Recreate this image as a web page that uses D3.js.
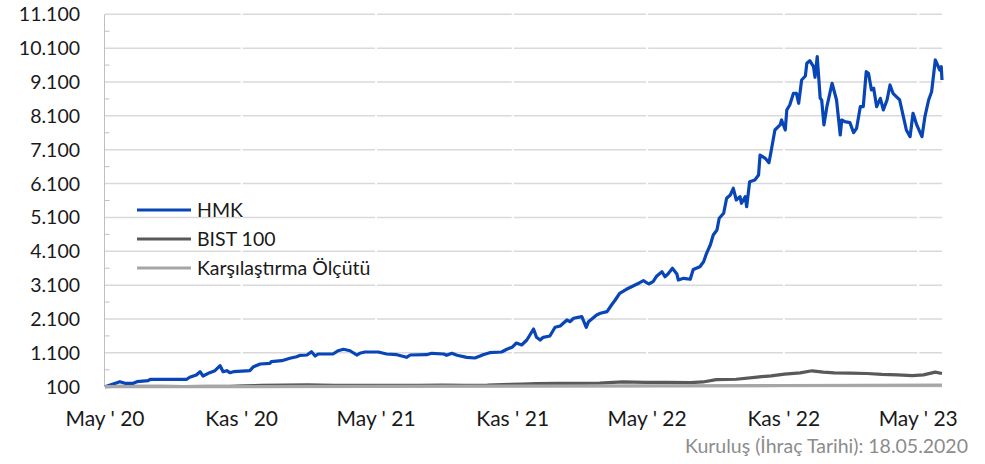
<!DOCTYPE html>
<html>
<head>
<meta charset="utf-8">
<script src="https://cdn.jsdelivr.net/npm/d3@7"></script>
<style>
  html, body { margin: 0; padding: 0; background: #fff; }
  svg { display: block; font-family: Lato, "Open Sans", sans-serif; }
</style>
</head>
<body>
<svg id="chart" width="985" height="464"></svg>
<script>
// HMK fund, normalised to 100 at launch (18.05.2020)
const hmk = [
  ["2020-05-18", 100], ["2020-06-07", 248], ["2020-06-14", 200], ["2020-06-25", 200],
  ["2020-06-30", 248], ["2020-07-15", 277], ["2020-07-18", 319], ["2020-09-05", 319],
  ["2020-09-09", 378], ["2020-09-18", 446], ["2020-09-23", 543], ["2020-09-27", 416],
  ["2020-10-06", 514], ["2020-10-13", 573], ["2020-10-20", 720], ["2020-10-24", 543],
  ["2020-10-29", 573], ["2020-11-02", 514], ["2020-11-07", 543], ["2020-11-29", 573],
  ["2020-12-04", 691], ["2020-12-13", 771], ["2020-12-26", 791], ["2020-12-28", 839],
  ["2021-01-11", 868], ["2021-01-22", 939], ["2021-01-31", 986], ["2021-02-05", 1028],
  ["2021-02-14", 1036], ["2021-02-20", 1134], ["2021-02-25", 1007], ["2021-03-01", 1066],
  ["2021-03-21", 1066], ["2021-03-28", 1163], ["2021-04-04", 1205], ["2021-04-13", 1163],
  ["2021-04-17", 1104], ["2021-04-22", 1036], ["2021-04-26", 1087], ["2021-05-03", 1125],
  ["2021-05-21", 1125], ["2021-05-28", 1087], ["2021-06-01", 1066], ["2021-06-15", 1045],
  ["2021-06-28", 968], ["2021-07-03", 1036], ["2021-07-25", 1045], ["2021-08-01", 1087],
  ["2021-08-17", 1066], ["2021-08-21", 1028], ["2021-08-28", 1087], ["2021-09-04", 1028],
  ["2021-09-17", 968], ["2021-09-28", 948], ["2021-10-05", 1007], ["2021-10-09", 1045],
  ["2021-10-18", 1104], ["2021-11-03", 1125], ["2021-11-10", 1205], ["2021-11-17", 1264],
  ["2021-11-23", 1391], ["2021-11-30", 1332], ["2021-12-07", 1480], ["2021-12-16", 1804],
  ["2021-12-20", 1559], ["2021-12-25", 1480], ["2021-12-29", 1559], ["2022-01-07", 1598],
  ["2022-01-14", 1855], ["2022-01-21", 1893], ["2022-01-25", 1973], ["2022-01-30", 2070],
  ["2022-02-03", 2020], ["2022-02-08", 2121], ["2022-02-19", 2168], ["2022-02-25", 1855],
  ["2022-02-28", 2020], ["2022-03-11", 2218], ["2022-03-16", 2268], ["2022-03-25", 2316],
  ["2022-03-31", 2513], ["2022-04-05", 2661], ["2022-04-11", 2859], ["2022-04-20", 2977],
  ["2022-04-29", 3075], ["2022-05-08", 3172], ["2022-05-13", 3231], ["2022-05-20", 3134],
  ["2022-05-26", 3202], ["2022-05-31", 3370], ["2022-06-07", 3497], ["2022-06-11", 3349],
  ["2022-06-15", 3429], ["2022-06-21", 3598], ["2022-06-27", 3429], ["2022-06-29", 3252],
  ["2022-07-06", 3302], ["2022-07-15", 3273], ["2022-07-19", 3560], ["2022-07-28", 3645],
  ["2022-08-02", 3793], ["2022-08-06", 4041], ["2022-08-11", 4286], ["2022-08-15", 4581],
  ["2022-08-20", 4729], ["2022-08-23", 5075], ["2022-08-29", 5222], ["2022-09-02", 5665],
  ["2022-09-07", 5763], ["2022-09-11", 5961], ["2022-09-15", 5615], ["2022-09-20", 5713],
  ["2022-09-22", 5518], ["2022-09-27", 5713], ["2022-09-29", 5417], ["2022-10-03", 6156],
  ["2022-10-10", 6206], ["2022-10-15", 6354], ["2022-10-17", 6944], ["2022-10-24", 6847],
  ["2022-10-29", 6717], ["2022-11-02", 7190], ["2022-11-06", 7683], ["2022-11-13", 7831],
  ["2022-11-15", 7978], ["2022-11-20", 7683], ["2022-11-22", 8274], ["2022-11-26", 8421],
  ["2022-12-01", 8767], ["2022-12-05", 8767], ["2022-12-08", 8472], ["2022-12-12", 9160],
  ["2022-12-17", 9278], ["2022-12-19", 9653], ["2022-12-23", 9730], ["2022-12-28", 9553],
  ["2022-12-30", 9240], ["2023-01-02", 9848], ["2023-01-06", 8619], ["2023-01-08", 8569],
  ["2023-01-11", 7831], ["2023-01-15", 8371], ["2023-01-22", 9063], ["2023-01-28", 8569],
  ["2023-02-02", 7535], ["2023-02-04", 7978], ["2023-02-08", 7928], ["2023-02-15", 7899],
  ["2023-02-20", 7603], ["2023-02-24", 7733], ["2023-03-01", 8371], ["2023-03-05", 8371],
  ["2023-03-09", 9405], ["2023-03-12", 9358], ["2023-03-16", 8865], ["2023-03-19", 8915],
  ["2023-03-23", 8371], ["2023-03-28", 8619], ["2023-04-01", 8274], ["2023-04-06", 8569],
  ["2023-04-10", 9012], ["2023-04-14", 8767], ["2023-04-23", 8569], ["2023-04-28", 8076],
  ["2023-05-02", 7683], ["2023-05-07", 7485], ["2023-05-11", 8176], ["2023-05-16", 7831],
  ["2023-05-23", 7485], ["2023-05-27", 8076], ["2023-06-01", 8569], ["2023-06-05", 8814],
  ["2023-06-10", 9751], ["2023-06-13", 9603], ["2023-06-16", 9455], ["2023-06-18", 9553],
  ["2023-06-19", 9160]
];

const bist = [
  ["2020-05-18", 100], ["2020-06-08", 113], ["2020-07-01", 112], ["2020-08-03", 108],
  ["2020-09-01", 106], ["2020-10-01", 110], ["2020-11-02", 112], ["2020-11-20", 128],
  ["2020-12-15", 138], ["2021-01-15", 150], ["2021-02-15", 153], ["2021-03-22", 137],
  ["2021-04-15", 138], ["2021-05-17", 143], ["2021-06-15", 140], ["2021-07-15", 140],
  ["2021-08-16", 145], ["2021-09-15", 139], ["2021-10-15", 145], ["2021-11-15", 168],
  ["2021-12-01", 178], ["2021-12-20", 190], ["2022-01-17", 197], ["2022-02-15", 200],
  ["2022-03-15", 205], ["2022-04-15", 240], ["2022-05-16", 225], ["2022-06-15", 230],
  ["2022-07-15", 220], ["2022-08-01", 240], ["2022-08-19", 310], ["2022-09-15", 320],
  ["2022-10-13", 385], ["2022-11-01", 420], ["2022-11-19", 470], ["2022-12-10", 510],
  ["2022-12-26", 570], ["2023-01-10", 530], ["2023-01-25", 510], ["2023-02-15", 500],
  ["2023-03-10", 490], ["2023-03-30", 465], ["2023-04-20", 450], ["2023-05-10", 430],
  ["2023-05-25", 450], ["2023-06-10", 530], ["2023-06-19", 490]
];

const bench = [
  ["2020-05-18", 100], ["2020-11-18", 104], ["2021-05-18", 110], ["2021-11-18", 118],
  ["2022-05-18", 125], ["2022-11-18", 135], ["2023-06-19", 148]
];

const seriesNames = ["HMK", "BIST 100", "Karşılaştırma Ölçütü"];
const seriesColors = ["#0846b8", "#595959", "#a6a6a6"];

const yTicks = [100, 1100, 2100, 3100, 4100, 5100, 6100, 7100, 8100, 9100, 10100, 11100];
const xTickDates = ["2020-05-18", "2020-11-18", "2021-05-18", "2021-11-18",
                    "2022-05-18", "2022-11-18", "2023-05-18"];
const xTickLabels = ["May ' 20", "Kas ' 20", "May ' 21", "Kas ' 21",
                     "May ' 22", "Kas ' 22", "May ' 23"];

const svg = d3.select("#chart");
const parse = d3.timeParse("%Y-%m-%d");
const trFormat = d3.formatLocale({ decimal: ",", thousands: ".", grouping: [3], currency: ["", " TL"] }).format(",d");

const x = d3.scaleTime()
    .domain([parse("2020-05-18"), parse("2023-06-19")])
    .range([105, 942]);

const y = d3.scaleLinear()
    .domain([100, 11100])
    .range([386.7, 14.3]);

// gridlines
svg.append("g")
    .selectAll("line")
    .data(yTicks.slice(1))
    .enter()
    .append("line")
    .attr("x1", 105)
    .attr("x2", 942)
    .attr("y1", d => y(d))
    .attr("y2", d => y(d))
    .attr("stroke", "#d9d9d9")
    .attr("stroke-width", 1.5);

// little white breaks at the date ticks
svg.append("g")
    .selectAll("line")
    .data(xTickDates.slice(1))
    .enter()
    .append("line")
    .attr("x1", d => x(parse(d)))
    .attr("x2", d => x(parse(d)))
    .attr("y1", 10)
    .attr("y2", 380)
    .attr("stroke", "#fff")
    .attr("stroke-width", 2);

// y axis line + minor ticks
svg.append("line")
    .attr("x1", 104.5).attr("x2", 104.5)
    .attr("y1", y(11100)).attr("y2", y(100))
    .attr("stroke", "#bfbfbf")
    .attr("stroke-width", 1);

svg.append("g")
    .selectAll("line")
    .data(yTicks.slice(0, -1))
    .enter()
    .append("line")
    .attr("x1", 104.5)
    .attr("x2", 109.5)
    .attr("y1", d => y(d + 500))
    .attr("y2", d => y(d + 500))
    .attr("stroke", "#bfbfbf")
    .attr("stroke-width", 1);

// x axis line
svg.append("line")
    .attr("x1", 104.5).attr("x2", 942)
    .attr("y1", y(100)).attr("y2", y(100))
    .attr("stroke", "#bfbfbf")
    .attr("stroke-width", 1);

// y labels
svg.append("g")
    .selectAll("text")
    .data(yTicks)
    .enter()
    .append("text")
    .attr("x", 80)
    .attr("y", d => y(d))
    .attr("dy", "0.36em")
    .attr("text-anchor", "end")
    .attr("font-size", "19.5px")
    .attr("fill", "#1a1a1a")
    .text(d => trFormat(d));

// x labels
svg.append("g")
    .selectAll("text")
    .data(xTickDates)
    .enter()
    .append("text")
    .attr("x", d => x(parse(d)))
    .attr("y", 426)
    .attr("text-anchor", "middle")
    .attr("font-size", "21px")
    .attr("fill", "#1a1a1a")
    .text((d, i) => xTickLabels[i]);

// series lines
const line = d3.line()
    .x(d => x(parse(d[0])))
    .y(d => y(d[1]));

[hmk, bist, bench].forEach((data, i) => {
    svg.append("path")
        .datum(data)
        .attr("d", line)
        .attr("fill", "none")
        .attr("stroke", seriesColors[i])
        .attr("stroke-width", 3.2)
        .attr("stroke-linejoin", "round");
});

// legend
const legend = svg.append("g")
    .selectAll("g")
    .data(seriesNames)
    .enter()
    .append("g")
    .attr("transform", (d, i) => `translate(137,${210 + i * 29})`);

legend.append("line")
    .attr("x1", 0)
    .attr("x2", 54)
    .attr("stroke", (d, i) => seriesColors[i])
    .attr("stroke-width", 3.2);

legend.append("text")
    .attr("x", 60)
    .attr("dy", "0.36em")
    .attr("font-size", "19.5px")
    .attr("fill", "#1a1a1a")
    .text(d => d);

// footnote
svg.append("text")
    .attr("x", 968)
    .attr("y", 453)
    .attr("text-anchor", "end")
    .attr("font-size", "19.5px")
    .attr("fill", "#8c8c8c")
    .text("Kuruluş (İhraç Tarihi): 18.05.2020");
</script>
</body>
</html>
